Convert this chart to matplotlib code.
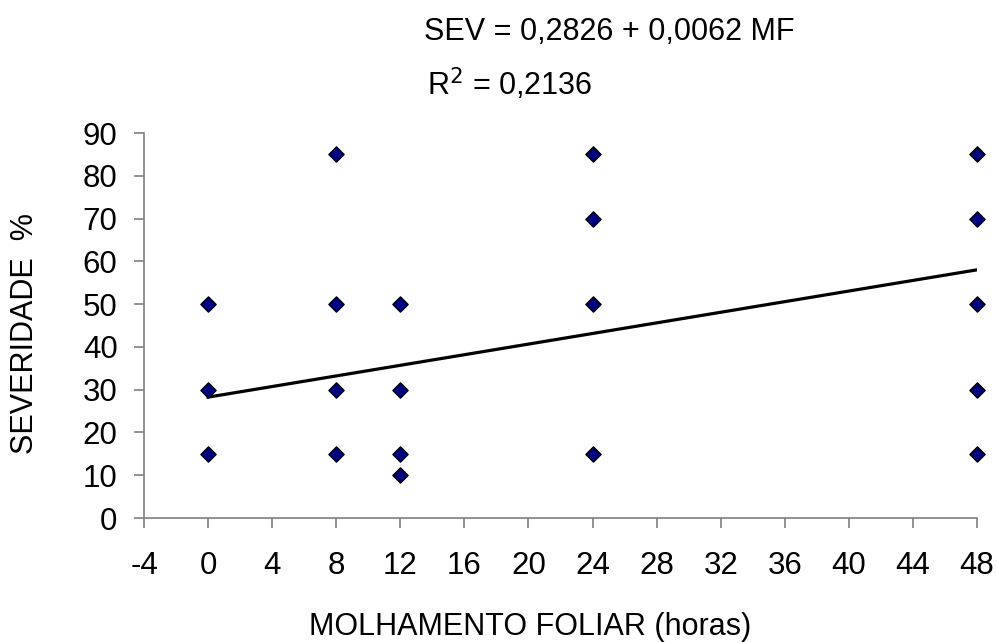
import matplotlib.pyplot as plt
import numpy as np

plt.rcParams['font.family'] = ['Liberation Sans', 'DejaVu Sans']
plt.rcParams['axes.unicode_minus'] = False

# Données
mf = [0, 0, 0, 8, 8, 8, 8, 12, 12, 12, 12, 24, 24, 24, 24, 48, 48, 48, 48, 48]
sev = [50, 30, 15, 85, 50, 30, 15, 50, 30, 15, 10, 85, 70, 50, 15, 85, 70, 50, 30, 15]

# Droite de régression (en fraction)
a = 0.2826
b = 0.0062
x_ticks = list(range(-4, 49, 4))
y_ticks = list(range(0, 91, 10))

fig = plt.figure(figsize=(9.98, 6.42), dpi=100)
ax = fig.add_axes([0.1443, 0.1931, 0.8347, 0.5997])

ax.scatter(mf, sev, marker='D', s=60, facecolor='#000080', edgecolor='black', linewidth=1, zorder=3, clip_on=False)

xl = np.array([0, 48])
ax.plot(xl, (a + b * xl) * 100, color='black', linewidth=2.3, zorder=2)

ax.set_xlim(-4, 48)
ax.set_ylim(0, 90)
ax.set_xticks(x_ticks)
ax.set_yticks(y_ticks)
ax.tick_params(labelsize=22.5, color='#808080', length=7, width=1.2)
ax.tick_params(axis='x', pad=17)
ax.tick_params(axis='y', pad=12)
for s in ['top', 'right']:
    ax.spines[s].set_visible(False)
for s in ['left', 'bottom']:
    ax.spines[s].set_color('#808080')
    ax.spines[s].set_linewidth(1.2)

# Titres des axes
fig.text(530 / 998, 1 - 635 / 642, 'MOLHAMENTO FOLIAR (horas)', fontsize=22, ha='center', va='baseline')
fig.text(25 / 998, 1 - 334 / 642, 'SEVERIDADE  %', fontsize=22, rotation=90, ha='center', va='center')

# Équation et R²
fig.text(609 / 998, 1 - 40 / 642, 'SEV = 0,2826 + 0,0062 MF', fontsize=22, ha='center', va='baseline')
fig.text(510 / 998, 1 - 95 / 642, 'R$^2$ = 0,2136', fontsize=22, ha='center', va='baseline')

fig.savefig('out.png', dpi=100)
